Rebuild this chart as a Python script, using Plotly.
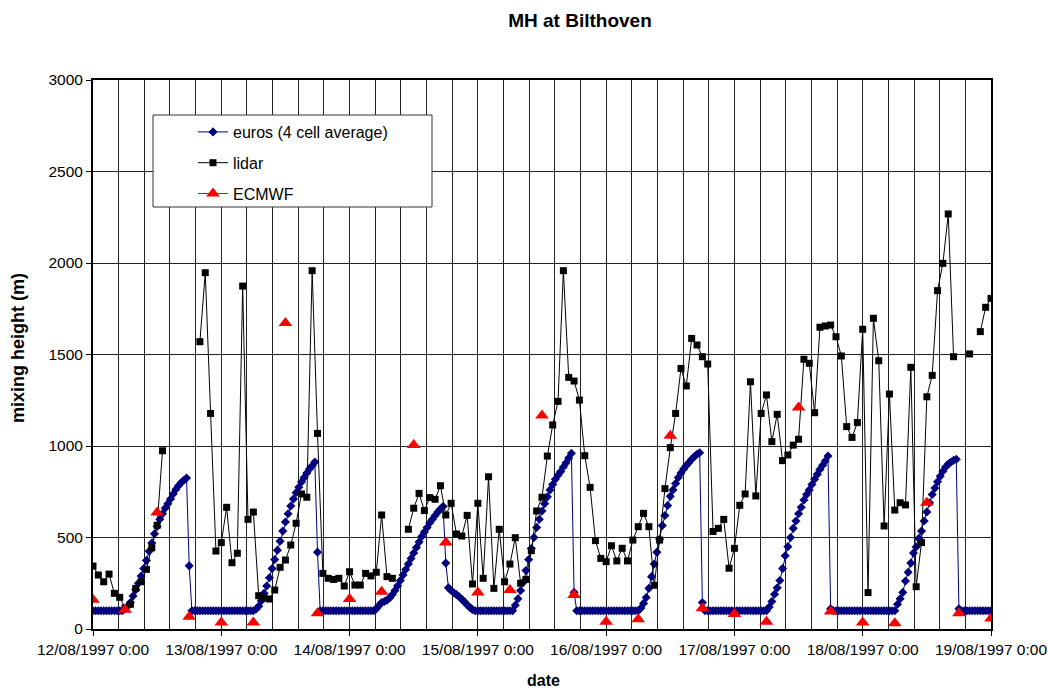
import datetime as dt
import plotly.graph_objects as go

# ---- data -------------------------------------------------------------
START = dt.datetime(1997, 8, 12)

# euros model, 4-cell average mixing height (m), every 30 minutes from 12/08 0:00
euros_day12 = [100, 100, 100, 100, 100, 100, 100, 100, 100, 100, 100, 100,
               110, 125, 145, 180, 215, 250, 290, 330, 375, 425, 470, 520,
               560, 600, 630, 660, 685, 710, 738, 762, 783, 800, 813, 825,
               345, 100, 100, 100, 100, 100, 100, 100, 100, 100, 100, 100]
euros_day13 = [100, 100, 100, 100, 100, 100, 100, 100, 100, 100, 100, 100, 100,
               108, 125, 155, 195, 235, 280, 330, 380, 430, 480, 535, 585,
               630, 672, 710, 745, 775, 803, 828, 852, 874, 892, 912,
               420, 100, 100, 100, 100, 100, 100, 100, 100, 100, 100, 100]
euros_day14 = [100, 100, 100, 100, 100, 100, 100, 100, 100, 100,
               110, 128, 145, 150, 158, 170, 188, 210, 236, 265, 295, 325, 355,
               385, 415, 445, 475, 505, 530, 555, 580, 600, 620, 640, 655, 670,
               360, 225, 210, 198, 188, 176, 162, 148, 132, 118, 106, 100]
euros_day15 = [100, 100, 100, 100, 100, 100, 100, 100, 100, 100, 100, 100, 100, 100,
               130, 165, 210, 255, 320, 380, 440, 500, 555, 600, 645,
               685, 722, 760, 790, 818, 840, 860, 885, 908, 935, 960,
               200, 100, 100, 100, 100, 100, 100, 100, 100, 100, 100, 100]
euros_day16 = [100, 100, 100, 100, 100, 100, 100, 100, 100, 100, 100, 100, 100,
               115, 140, 172, 222, 286, 355, 420, 490, 565, 620, 675, 725,
               760, 795, 828, 852, 875, 893, 910, 928, 942, 955, 963,
               145, 100, 100, 100, 100, 100, 100, 100, 100, 100, 100, 100]
euros_day17 = [100, 100, 100, 100, 100, 100, 100, 100, 100, 100, 100, 100, 100,
               120, 150, 190, 225, 265, 330, 400, 450, 500, 550, 590, 630,
               665, 705, 735, 760, 790, 818, 845, 872, 895, 918, 945,
               110, 100, 100, 100, 100, 100, 100, 100, 100, 100, 100, 100]
euros_day18 = [100, 100, 100, 100, 100, 100, 100, 100, 100, 100, 100, 100, 100,
               135, 165, 200, 262, 310, 360, 415, 448, 495, 535, 590, 640,
               690, 735, 770, 805, 835, 862, 885, 902, 912, 922, 927,
               110, 100, 100, 100, 100, 100, 100, 100, 100, 100, 100, 100,
               100]
euros_values = (euros_day12 + euros_day13 + euros_day14 + euros_day15
                + euros_day16 + euros_day17 + euros_day18)

# lidar mixing height (m), hourly; None marks a break in the record
lidar_hours = (list(range(0, 14)) + [None] + list(range(20, 57)) + [None]
               + list(range(59, 162)) + [None] + [164] + [None] + [166, 167, 168])
lidar_values = [
    # 12/08 00-13 h
    344, 295, 258, 300, 195, 173, 115, 135, 222, 258, 326, 444, 567, 974,
    None,
    # 12/08 20 h - 14/08 08 h
    1570, 1947, 1178, 426, 472, 665, 362, 414, 1874, 599, 639, 182, 170, 164,
    213, 337, 377, 459, 578, 738, 720, 1958, 1069, 304, 277, 271, 277, 235,
    313, 240, 240, 304, 290, 310, 623, 286, 277,
    None,
    # 14/08 11 h - 18/08 17 h
    545, 660, 741, 647, 718, 709, 783, 623, 687, 519, 508, 621, 246, 687,
    277, 832, 222, 545, 258, 355, 499, 250, 271, 428, 645, 720, 945, 1115,
    1244, 1958, 1375, 1355, 1251, 947, 774, 483, 386, 368, 455, 372, 441,
    372, 486, 559, 632, 559, 239, 486, 767, 991, 1178, 1424, 1328, 1588,
    1552, 1488, 1448, 533, 550, 599, 332, 441, 676, 738, 1351, 727, 1178,
    1279, 1024, 1173, 920, 951, 1005, 1037, 1474, 1452, 1182, 1649, 1656,
    1661, 1597, 1492, 1106, 1047, 1128, 1638, 199, 1698, 1466, 563, 1284,
    650, 690, 678, 1430, 231, 472, 1269, 1386, 1849, 1998, 2268, 1488,
    None,
    1503,
    None,
    1625, 1758, 1807,
]

# ECMWF mixing height (m), every 6 hours
ecmwf_values = [160, 105, 636, 67, 35, 35, 1672, 86, 164, 204, 1005, 472,
                200, 213, 1166, 186, 40, 53, 1056, 113, 82, 40, 1211, 95,
                35, 31, 690, 86, 58]

day_labels = ["12/08/1997 0:00", "13/08/1997 0:00", "14/08/1997 0:00",
              "15/08/1997 0:00", "16/08/1997 0:00", "17/08/1997 0:00",
              "18/08/1997 0:00", "19/08/1997 0:00"]

# ---- time axes --------------------------------------------------------
euros_times = [START + dt.timedelta(minutes=30 * i) for i in range(len(euros_values))]
lidar_times = [None if h is None else START + dt.timedelta(hours=h) for h in lidar_hours]
ecmwf_times = [START + dt.timedelta(hours=6 * i) for i in range(len(ecmwf_values))]
day_ticks = [START + dt.timedelta(days=i) for i in range(len(day_labels))]

FONT = "Liberation Sans, Arial, sans-serif"
NAVY = "#000080"
RED = "#ff0000"

fig = go.Figure()
fig.add_trace(go.Scatter(
    x=euros_times, y=euros_values, name="euros (4 cell average)",
    mode="lines+markers", legendgroup="a",
    line=dict(color=NAVY, width=1),
    marker=dict(symbol="diamond", size=7, color=NAVY),
))
fig.add_trace(go.Scatter(
    x=lidar_times, y=lidar_values, name="lidar",
    mode="lines+markers", legendgroup="b", connectgaps=False,
    line=dict(color="black", width=1),
    marker=dict(symbol="square", size=7, color="black"),
))
fig.add_trace(go.Scatter(
    x=ecmwf_times, y=ecmwf_values, name="ECMWF",
    mode="markers", showlegend=False, legendgroup="c",
    marker=dict(symbol="triangle-up", size=12, color=RED),
))
# legend key for ECMWF (line + marker, as in the spreadsheet legend)
fig.add_trace(go.Scatter(
    x=[None], y=[None], name="ECMWF", legendgroup="c",
    mode="lines+markers",
    line=dict(color=RED, width=1),
    marker=dict(symbol="triangle-up", size=12, color=RED),
))

L, R, T, B = 93, 57, 80, 59
W, H = 1048, 688
pw, ph = W - L - R, H - T - B


def px_x(x):
    return (x - L) / pw


def px_y(y):
    return (H - B - y) / ph


fig.update_layout(
    width=W, height=H,
    margin=dict(l=L, r=R, t=T, b=B, pad=0, autoexpand=False),
    paper_bgcolor="white", plot_bgcolor="white",
    font=dict(family=FONT, size=15.5, color="black"),
    title=dict(text="<b>MH at Bilthoven</b>", x=580 / W, xanchor="center",
               y=1 - 20 / H, yanchor="middle",
               font=dict(family=FONT, size=19, color="black")),
    showlegend=True,
    legend=dict(x=px_x(193), y=px_y(115), xanchor="left", yanchor="top",
                bgcolor="rgba(0,0,0,0)", borderwidth=0,
                font=dict(family=FONT, size=16), tracegroupgap=7,
                itemwidth=30),
    shapes=[dict(type="rect", xref="paper", yref="paper",
                 x0=px_x(153), x1=px_x(432), y0=px_y(207), y1=px_y(115),
                 fillcolor="white", line=dict(color="#333", width=1),
                 layer="above")],
    annotations=[
        dict(text="<b>mixing height (m)</b>", xref="paper", yref="paper",
             x=px_x(18), y=px_y(348), textangle=-90, showarrow=False,
             xanchor="center", yanchor="middle", font=dict(size=18)),
        dict(text="<b>date</b>", xref="paper", yref="paper",
             x=px_x(543), y=px_y(680), showarrow=False,
             xanchor="center", yanchor="middle", font=dict(size=16)),
    ],
)

fig.update_xaxes(
    type="date", automargin=False,
    range=[START, START + dt.timedelta(days=7)],
    tickmode="array", tickvals=day_ticks, ticktext=day_labels,
    ticks="outside", ticklen=5, tickcolor="black", tickwidth=1,
    showgrid=True, gridcolor="#222", gridwidth=1,
    minor=dict(dtick=0.2 * 86400000, tick0=START, showgrid=True,
               gridcolor="#222", gridwidth=1, ticks=""),
    showline=True, linecolor="black", linewidth=2, mirror=True,
    zeroline=False, tickfont=dict(size=15.5),
)
fig.update_yaxes(
    automargin=False,
    range=[0, 3000], dtick=500, tick0=0,
    ticks="outside", ticklen=5, tickcolor="black", tickwidth=1,
    showgrid=True, gridcolor="#222", gridwidth=1,
    showline=True, linecolor="black", linewidth=2, mirror=True,
    zeroline=False, tickfont=dict(size=15.5),
)

fig.write_html("out.html")
